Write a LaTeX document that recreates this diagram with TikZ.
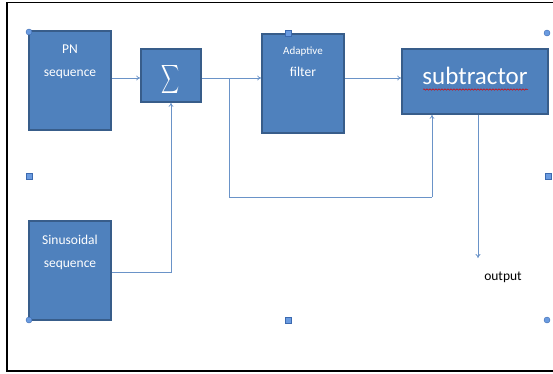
\documentclass[tikz,border=0pt]{standalone}
\usepackage{fontspec}
\setmainfont{Carlito}
\usetikzlibrary{arrows.meta,decorations.pathmorphing}
\definecolor{boxfill}{HTML}{4F81BD}
\definecolor{boxdraw}{HTML}{385D8A}
\definecolor{linec}{HTML}{6A93C8}
\definecolor{handfill}{HTML}{6A9BE0}
\definecolor{handdraw}{HTML}{3C6AB0}
\begin{document}
\begin{tikzpicture}[x=1pt,y=-1pt,
  blk/.style={draw=boxdraw,fill=boxfill,line width=1.6pt,inner sep=0pt},
  lbl/.style={text=white,inner sep=0pt,align=center},
  arr/.style={draw=linec,line width=0.8pt,-{To[length=4pt,width=5pt]}},
  ln/.style={draw=linec,line width=0.8pt},
  hsq/.style={draw=handdraw,fill=handfill,line width=0.5pt,minimum size=6pt,inner sep=0pt,rectangle},
  hci/.style={draw=handdraw,fill=handfill,line width=0.4pt,minimum size=6pt,inner sep=0pt,circle}]
\useasboundingbox (0,0) rectangle (553,373);
% frame
\draw[line width=1.6pt] (560,2.5) -- (7,2.5) -- (7,371) -- (560,371);
% blocks
\node[blk,minimum width=82pt,minimum height=99pt] (pn) at (70,80.5) {};
\node[blk,minimum width=60pt,minimum height=53pt] (sum) at (171,75.5) {};
\node[blk,minimum width=82pt,minimum height=99pt] (af) at (303,83.5) {};
\node[blk,minimum width=146pt,minimum height=65pt] (sub) at (475,81.5) {};
\node[blk,minimum width=82pt,minimum height=99pt] (sin) at (70,270.5) {};
% labels
\node[lbl,font=\fontsize{13.5}{23}\selectfont] (pnl) at (70,62) {PN\\sequence};
\node[lbl] (suml) at (171,79) {\scalebox{1.25}[2]{$\displaystyle\sum$}};
\node[lbl,font=\fontsize{11}{11}\selectfont] (afl1) at (303,52) {Adaptive};
\node[lbl,font=\fontsize{13.5}{13.5}\selectfont] (afl2) at (303,72) {filter};
\node[lbl,font=\fontsize{25}{25}\selectfont] (subl) at (475,76) {subtractor};
\draw[red!85!black,line width=0.5pt,decorate,decoration={snake,amplitude=0.7pt,segment length=3pt}] (423,89.5) -- (528,89.5);
\node[lbl,font=\fontsize{13.5}{23}\selectfont] (sinl) at (70,252) {Sinusoidal\\sequence};
\node[inner sep=0pt,font=\fontsize{13.5}{13.5}\selectfont] (out) at (503,277) {output};
% coordinates
\coordinate (my) at (0,78);
\coordinate (br) at (229,78);
\coordinate (fb) at (432,197);
\coordinate (sy) at (0,272);
\coordinate (ox) at (478,258);
% connectors
\draw[arr] (pn.east|-my) -- (sum.west|-my);
\draw[arr] (sum.east|-my) -- (af.west|-my);
\draw[arr] (af.east|-my) -- (sub.west|-my);
\draw[ln] (br) |- (fb);
\draw[arr] (fb) -- (fb|-sub.south);
\draw[arr] (sin.east|-sy) -| (sum.south);
\draw[arr] (sub.south-|ox) -- (ox);
% handles
\node[hci] (h1) at (29,32) {};
\node[hsq] (h2) at (29,176) {};
\node[hci] (h3) at (29,320) {};
\node[hsq] (h4) at (288,33) {};
\node[hsq] (h5) at (288,320) {};
\node[hci] (h6) at (547,33) {};
\node[hsq] (h7) at (548,176) {};
\node[hci] (h8) at (547,320) {};
\end{tikzpicture}
\end{document}
